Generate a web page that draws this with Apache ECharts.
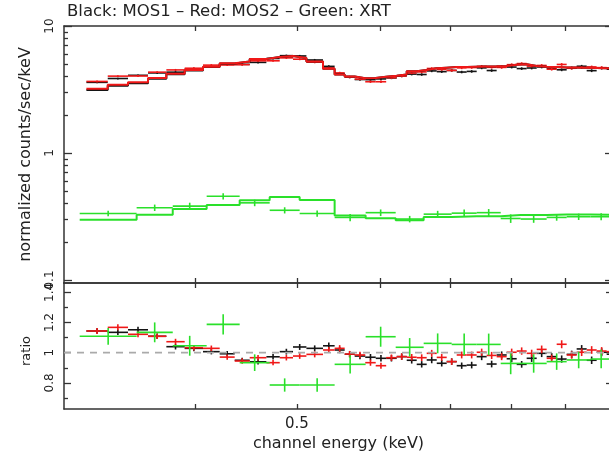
<!DOCTYPE html>
<html>
<head>
<meta charset="utf-8">
<script src="https://cdn.jsdelivr.net/npm/echarts@6/dist/echarts.min.js"></script>
<style>
  html, body { margin: 0; padding: 0; background: #fff; }
  #chart { width: 609px; height: 457px; }
</style>
</head>
<body>
<div id="chart"></div>
<script>
// Channel bin edges (keV) of the two MOS cameras
const mosEdges = [0.3151, 0.3302, 0.3452, 0.3607, 0.3755, 0.3909, 0.4069, 0.4221, 0.4362, 0.4508,
  0.4676, 0.4815, 0.4957, 0.5105, 0.5294, 0.5431, 0.5552, 0.5675, 0.5808, 0.5943,
  0.6081, 0.6223, 0.6361, 0.6502, 0.6646, 0.6794, 0.6944, 0.7098, 0.7255, 0.7416,
  0.7580, 0.7748, 0.7920, 0.8096, 0.8275, 0.8459, 0.8646, 0.8838, 0.9034, 0.9234,
  0.9439, 0.9648, 0.9862, 1.008];

// Folded model, counts/sec/keV
const mos1Model = [3.13, 3.38, 3.54, 3.85, 4.16, 4.47, 4.76, 5.07, 5.25, 5.50, 5.70, 5.80, 5.60, 5.25, 4.60,
  4.15, 4.00, 3.88, 3.90, 3.98, 4.05, 4.15, 4.40, 4.50, 4.65, 4.70, 4.75, 4.75, 4.78, 4.80,
  4.82, 4.85, 4.95, 5.00, 4.85, 4.78, 4.75, 4.72, 4.72, 4.70, 4.68, 4.65, 4.62];
const mos2Model = [3.20, 3.45, 3.60, 3.90, 4.20, 4.50, 4.78, 5.08, 5.25, 5.50, 5.70, 5.80, 5.60, 5.25, 4.60,
  4.15, 4.00, 3.88, 3.90, 3.98, 4.05, 4.15, 4.40, 4.50, 4.65, 4.70, 4.75, 4.75, 4.78, 4.80,
  4.82, 4.85, 4.95, 5.00, 4.85, 4.78, 4.75, 4.72, 4.72, 4.70, 4.68, 4.65, 4.62];

// Measured rates, counts/sec/keV
const mos1Flux = [3.60, 3.86, 4.09, 4.27, 4.33, 4.60, 4.79, 5.03, 4.99, 5.17, 5.55, 5.84, 5.81, 5.40, 4.81,
  4.22, 3.96, 3.79, 3.78, 3.83, 3.90, 4.04, 4.18, 4.15, 4.43, 4.37, 4.47, 4.34, 4.39, 4.68,
  4.46, 4.78, 4.75, 4.62, 4.67, 4.76, 4.63, 4.52, 4.67, 4.82, 4.45, 4.66, 4.57];
const mos2Flux = [3.66, 4.03, 4.04, 4.33, 4.51, 4.65, 4.92, 4.93, 4.96, 5.32, 5.32, 5.61, 5.48, 5.19, 4.68,
  4.27, 3.96, 3.82, 3.64, 3.64, 3.92, 4.04, 4.27, 4.35, 4.63, 4.55, 4.47, 4.68, 4.71, 4.81,
  4.73, 4.72, 4.96, 5.06, 4.83, 4.89, 4.57, 4.98, 4.65, 4.71, 4.76, 4.70, 4.65];

// Data / model
const mos1Ratio = [1.144, 1.135, 1.152, 1.109, 1.040, 1.029, 1.007, 0.993, 0.950, 0.940, 0.973, 1.007, 1.038, 1.029, 1.046,
  1.018, 0.990, 0.978, 0.970, 0.963, 0.963, 0.974, 0.950, 0.923, 0.952, 0.930, 0.941, 0.914, 0.918, 0.974,
  0.925, 0.985, 0.960, 0.923, 0.963, 0.996, 0.974, 0.958, 0.989, 1.025, 0.950, 1.003, 0.990];
const mos2Ratio = [1.144, 1.168, 1.122, 1.109, 1.073, 1.033, 1.029, 0.971, 0.945, 0.967, 0.934, 0.967, 0.978, 0.989, 1.018,
  1.029, 0.991, 0.985, 0.934, 0.914, 0.967, 0.974, 0.970, 0.967, 0.996, 0.969, 0.941, 0.985, 0.985, 1.003,
  0.982, 0.974, 1.003, 1.011, 0.996, 1.022, 0.963, 1.056, 0.985, 1.003, 1.018, 1.011, 1.007];

// Fractional 1-sigma uncertainties
const mos1FracErr = [0.016, 0.016, 0.017, 0.017, 0.018, 0.018, 0.018, 0.018, 0.018, 0.019, 0.019, 0.019, 0.019, 0.019, 0.020,
  0.021, 0.021, 0.022, 0.022, 0.022, 0.022, 0.022, 0.023, 0.023, 0.023, 0.023, 0.023, 0.023, 0.024, 0.024,
  0.024, 0.024, 0.024, 0.024, 0.025, 0.025, 0.025, 0.025, 0.025, 0.025, 0.026, 0.026, 0.026];
const mos2FracErr = [0.018, 0.017, 0.017, 0.017, 0.018, 0.018, 0.018, 0.018, 0.019, 0.019, 0.019, 0.019, 0.019, 0.020, 0.020,
  0.021, 0.021, 0.021, 0.022, 0.022, 0.022, 0.022, 0.022, 0.023, 0.023, 0.023, 0.023, 0.023, 0.023, 0.024,
  0.024, 0.024, 0.024, 0.024, 0.024, 0.025, 0.025, 0.025, 0.025, 0.025, 0.025, 0.026, 0.026];

// XRT grouping
const xrtEdges = [0.3105, 0.3518, 0.3808, 0.4102, 0.4410, 0.4710, 0.5030, 0.5431, 0.5813, 0.6209,
  0.6602, 0.7020, 0.7416, 0.7817, 0.8167, 0.8646, 0.9034, 0.9522, 0.9971];
const xrtFlux = [0.334, 0.371, 0.382, 0.456, 0.405, 0.354, 0.334, 0.311, 0.339, 0.302,
  0.330, 0.336, 0.339, 0.305, 0.302, 0.311, 0.315, 0.315];
const xrtModel = [0.298, 0.326, 0.362, 0.389, 0.425, 0.451, 0.427, 0.322, 0.307, 0.295,
  0.313, 0.318, 0.318, 0.325, 0.325, 0.328, 0.328, 0.326];
const xrtRatio = [1.109, 1.135, 1.046, 1.188, 0.934, 0.786, 0.786, 0.923, 1.106, 1.036,
  1.062, 1.055, 1.055, 0.929, 0.929, 0.941, 0.952, 0.958];
const xrtFracErr = [0.050, 0.058, 0.063, 0.057, 0.059, 0.056, 0.056, 0.066, 0.060, 0.059,
  0.062, 0.068, 0.068, 0.077, 0.066, 0.058, 0.058, 0.064];

// Axis ranges and ticks
const energyRange = [0.3, 1.0];
const energyTicks = [0.4, 0.5, 0.6, 0.7, 0.8, 0.9];
const energyLabels = [0.5];
const fluxRange = [0.0947, 10];
const fluxMajor = [0.1, 1, 10];
const fluxMinor = [0.2, 0.3, 0.4, 0.5, 0.6, 0.7, 0.8, 0.9, 2, 3, 4, 5, 6, 7, 8, 9];
const ratioRange = [0.627, 1.462];
const ratioMajor = [0.8, 1, 1.2, 1.4];
const ratioMinor = [0.7, 0.9, 1.1, 1.3];
const unity = 1;

const lg = Math.log10;
const BLACK = '#141414', RED = '#f01818', GREEN = '#2ae02a';
const AXIS = '#333333', TEXT = '#222222', FONT = 'DejaVu Sans';

// Error crosses: [xLo, xHi, xMid, y, yLo, yHi] in plotting space
function crosses(edges, values, frac, toY) {
  return values.map((v, i) => {
    const a = lg(edges[i]), b = lg(edges[i + 1]);
    return [a, b, (a + b) / 2, toY(v), toY(v * (1 - frac[i])), toY(v * (1 + frac[i]))];
  });
}
// Histogram outline of a folded model
function steps(edges, values) {
  const pts = values.map((v, i) => [lg(edges[i]), lg(v)]);
  pts.push([lg(edges[values.length]), lg(values[values.length - 1])]);
  return pts;
}
function crossRenderer(color, width) {
  return function (params, api) {
    const a = api.coord([api.value(0), api.value(3)]);
    const b = api.coord([api.value(1), api.value(3)]);
    const lo = api.coord([api.value(2), api.value(4)]);
    const hi = api.coord([api.value(2), api.value(5)]);
    const style = { stroke: color, lineWidth: width };
    return {
      type: 'group',
      children: [
        { type: 'line', shape: { x1: a[0], y1: a[1], x2: b[0], y2: b[1] }, style },
        { type: 'line', shape: { x1: lo[0], y1: lo[1], x2: hi[0], y2: hi[1] }, style }
      ]
    };
  };
}
function crossSeries(data, color, xi, yi) {
  return {
    type: 'custom', xAxisIndex: xi, yAxisIndex: yi, clip: true,
    renderItem: crossRenderer(color, 1.6),
    encode: { x: [0, 1, 2], y: [3, 4, 5] },
    data: data, silent: true
  };
}
function stepSeries(data, color, xi, yi) {
  return {
    type: 'line', xAxisIndex: xi, yAxisIndex: yi, step: 'end', showSymbol: false, symbol: 'none',
    lineStyle: { color: color, width: 2 }, data: data, silent: true
  };
}

const ident = v => v;
const fmtPow = v => String(+Math.pow(10, v).toPrecision(2));

function xAxisDef(grid, position, showLabels) {
  return {
    type: 'value', gridIndex: grid, position: position,
    min: lg(energyRange[0]), max: lg(energyRange[1]),
    axisLine: { show: true, onZero: false, lineStyle: { color: AXIS, width: 1.5 } },
    axisTick: { show: true, inside: true, length: 5, customValues: energyTicks.map(lg), lineStyle: { color: AXIS, width: 1.3 } },
    axisLabel: showLabels ? {
      show: true, customValues: energyLabels.map(lg), formatter: fmtPow, margin: 8,
      color: TEXT, fontFamily: FONT, fontSize: 15
    } : { show: false },
    splitLine: { show: false },
    name: showLabels ? 'channel energy (keV)' : '',
    nameLocation: 'middle', nameGap: 27,
    nameTextStyle: { color: TEXT, fontFamily: FONT, fontSize: 16 }
  };
}
function yAxisDef(grid, position, range, ticks, len, opts) {
  const o = opts || {};
  return {
    type: 'value', gridIndex: grid, position: position,
    min: range[0], max: range[1],
    axisLine: { show: !!o.line, onZero: false, lineStyle: { color: AXIS, width: 1.5 } },
    axisTick: { show: true, inside: true, length: len, customValues: ticks, lineStyle: { color: AXIS, width: 1.3 } },
    axisLabel: o.labels ? {
      show: true, customValues: ticks, formatter: o.formatter, rotate: 90, margin: 8,
      color: TEXT, fontFamily: FONT, fontSize: 12
    } : { show: false },
    splitLine: { show: false },
    name: o.name || '', nameLocation: 'middle', nameGap: o.nameGap || 30,
    nameTextStyle: { color: TEXT, fontFamily: FONT, fontSize: o.nameSize || 16, padding: o.namePad || 0 }
  };
}

const fluxR = fluxRange.map(lg);
const option = {
  animation: false,
  backgroundColor: '#ffffff',
  title: {
    text: 'Black: MOS1 \u2013 Red: MOS2 \u2013 Green: XRT',
    left: 67, top: 3, padding: 0,
    textStyle: { color: TEXT, fontFamily: FONT, fontSize: 16.5, fontWeight: 'normal' }
  },
  grid: [
    { left: 64, right: -4, top: 26, height: 257, outerBoundsMode: 'none' },
    { left: 64, right: -4, top: 283, height: 126, outerBoundsMode: 'none' }
  ],
  xAxis: [
    xAxisDef(0, 'bottom', false),
    xAxisDef(0, 'top', false),
    xAxisDef(1, 'bottom', true),
    xAxisDef(1, 'top', false)
  ],
  yAxis: [
    yAxisDef(0, 'left', fluxR, fluxMajor.map(lg), 8, { line: true, labels: true, formatter: fmtPow, name: 'normalized counts/sec/keV', nameGap: 30 }),
    yAxisDef(0, 'left', fluxR, fluxMinor.map(lg), 4),
    yAxisDef(0, 'right', fluxR, fluxMajor.map(lg), 8, { line: true }),
    yAxisDef(0, 'right', fluxR, fluxMinor.map(lg), 4),
    yAxisDef(1, 'left', ratioRange, ratioMajor, 7, { line: true, labels: true, formatter: ident, name: 'ratio', nameGap: 31, nameSize: 13, namePad: [0, 10, 0, 0] }),
    yAxisDef(1, 'left', ratioRange, ratioMinor, 4),
    yAxisDef(1, 'right', ratioRange, ratioMajor, 7, { line: true }),
    yAxisDef(1, 'right', ratioRange, ratioMinor, 4)
  ],
  series: [
    // upper panel: spectra and folded models
    crossSeries(crosses(mosEdges, mos1Flux, mos1FracErr, lg), BLACK, 0, 0),
    crossSeries(crosses(mosEdges, mos2Flux, mos2FracErr, lg), RED, 0, 0),
    crossSeries(crosses(xrtEdges, xrtFlux, xrtFracErr, lg), GREEN, 0, 0),
    stepSeries(steps(mosEdges, mos1Model), BLACK, 0, 0),
    stepSeries(steps(mosEdges, mos2Model), RED, 0, 0),
    stepSeries(steps(xrtEdges, xrtModel), GREEN, 0, 0),
    // lower panel: data / model
    {
      type: 'line', xAxisIndex: 2, yAxisIndex: 4, showSymbol: false, symbol: 'none', silent: true,
      lineStyle: { color: '#aaaaaa', width: 1.8, type: [7, 6] },
      data: [[lg(energyRange[0]), unity], [lg(energyRange[1]), unity]]
    },
    crossSeries(crosses(mosEdges, mos1Ratio, mos1FracErr, ident), BLACK, 2, 4),
    crossSeries(crosses(mosEdges, mos2Ratio, mos2FracErr, ident), RED, 2, 4),
    crossSeries(crosses(xrtEdges, xrtRatio, xrtFracErr, ident), GREEN, 2, 4)
  ]
};

const chart = echarts.init(document.getElementById('chart'), null, { renderer: 'canvas' });
chart.setOption(option);
</script>
</body>
</html>
